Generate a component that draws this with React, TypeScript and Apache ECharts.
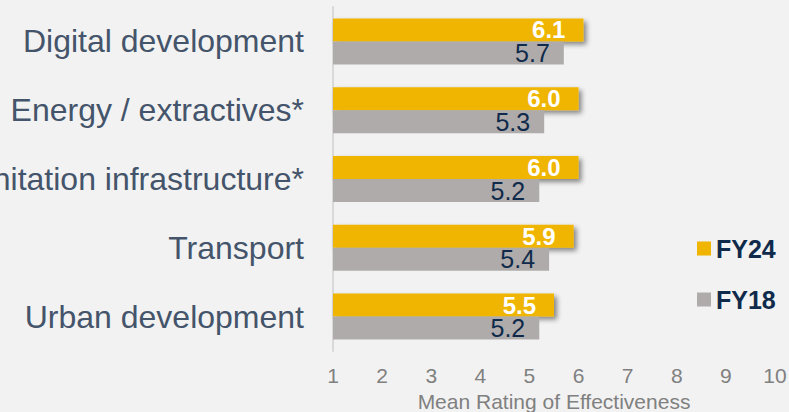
import React, { useEffect, useRef } from "react";
import * as echarts from "echarts";

const categories = [
  "Digital development",
  "Energy / extractives*",
  "Sanitation infrastructure*",
  "Transport",
  "Urban development",
];
const fy24 = [6.1, 6.0, 6.0, 5.9, 5.5];
const fy18 = [5.7, 5.3, 5.2, 5.4, 5.2];
const xMin = 1;
const xMax = 10;

export default function App() {
  const ref = useRef<HTMLDivElement>(null);
  useEffect(() => {
    document.body.style.margin = "0";
    const chart = echarts.init(ref.current!, null, { renderer: "svg" });
    chart.setOption({
      animation: false,
      backgroundColor: "#f2f2f2",
      textStyle: { fontFamily: "Liberation Sans, Arial, sans-serif" },
      grid: { left: 333, right: 14, top: 7, bottom: 61, containLabel: false, outerBoundsMode: "none" },
      legend: {
        orient: "vertical",
        left: 692,
        top: 231,
        icon: "rect",
        itemWidth: 14,
        itemHeight: 14,
        itemGap: 26,
        data: ["FY24", "FY18"],
        textStyle: { color: "#0f2a4a", fontSize: 25, fontWeight: "bold", padding: [0, 0, 0, 0] },
      },
      xAxis: {
        type: "value",
        min: xMin,
        max: xMax,
        interval: 1,
        axisLine: { show: false },
        axisTick: { show: false },
        splitLine: { show: false },
        axisLabel: { color: "#808080", fontSize: 21, margin: 14 },
        name: "Mean Rating of Effectiveness",
        nameLocation: "middle",
        nameGap: 33,
        nameTextStyle: { color: "#808080", fontSize: 21, lineHeight: 22 },
      },
      yAxis: {
        type: "category",
        inverse: true,
        data: categories,
        axisLine: { show: true, lineStyle: { color: "#d9d9d9", width: 2 } },
        axisTick: { show: false },
        axisLabel: { color: "#44546a", fontSize: 32, margin: 29 },
      },
      series: [
        {
          name: "FY24",
          type: "bar",
          data: fy24,
          barWidth: 23,
          barGap: "0%",
          itemStyle: {
            color: "#efb500",
            shadowColor: "rgba(0,0,0,0.45)",
            shadowBlur: 5,
            shadowOffsetX: 3,
            shadowOffsetY: 3,
          },
          label: {
            show: true,
            position: "insideRight",
            distance: 18,
            color: "#ffffff",
            fontWeight: "bold",
            fontSize: 24,
            lineHeight: 22,
            formatter: (p: any) => p.value.toFixed(1),
          },
        },
        {
          name: "FY18",
          type: "bar",
          data: fy18,
          barWidth: 23,
          barGap: "0%",
          itemStyle: { color: "#afabab" },
          label: {
            show: true,
            position: "insideRight",
            distance: 14,
            color: "#0f2a4a",
            fontSize: 25,
            lineHeight: 22,
            formatter: (p: any) => p.value.toFixed(1),
          },
        },
      ],
    });
    return () => chart.dispose();
  }, []);
  return (
    <div
      ref={ref}
      style={{ position: "absolute", left: 0, top: 0, width: 789, height: 412, background: "#f2f2f2" }}
    />
  );
}
